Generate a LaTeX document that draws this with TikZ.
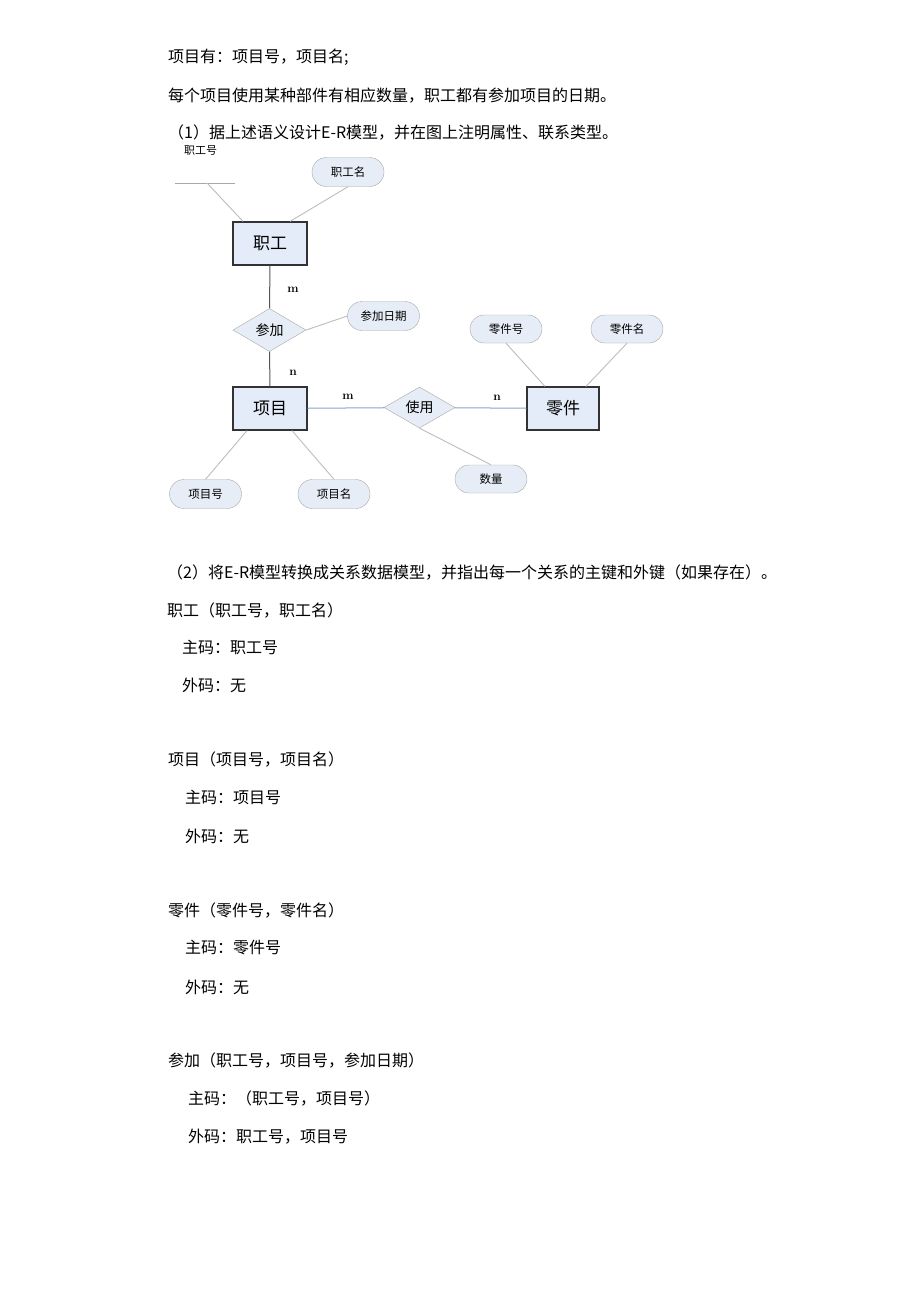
\documentclass[tikz,border=0pt]{standalone}
\usepackage{fontspec}
\newfontfamily\cjk{Noto Sans CJK SC}
\usetikzlibrary{shapes.geometric,shapes.misc}
\definecolor{erfill}{HTML}{E3ECF8}
\definecolor{attrfill}{HTML}{E6EDF6}
\definecolor{attrline}{HTML}{A8A8A8}
\definecolor{linegray}{HTML}{BDBDBD}
\definecolor{relline}{HTML}{555555}
\definecolor{useline}{HTML}{8AA4CC}
\begin{document}
\begin{tikzpicture}[x=1pt,y=-1pt,
  entity/.style={draw=black!80,fill=erfill,line width=1.2pt,minimum width=74pt,minimum height=43pt,inner sep=0pt,font=\cjk\fontsize{17}{17}\selectfont},
  attr/.style={rounded rectangle,draw=attrline,fill=attrfill,minimum width=72pt,minimum height=29pt,inner sep=0pt,font=\cjk\fontsize{11.5}{12}\selectfont},
  rel/.style={diamond,draw=attrline,fill=attrfill,minimum width=73pt,minimum height=43pt,inner sep=0pt,font=\cjk\fontsize{14}{14}\selectfont},
  txt/.style={anchor=west,inner sep=0pt,font=\cjk\fontsize{16}{18}\selectfont},
  card/.style={inner sep=0pt,font=\bfseries\fontsize{12}{12}\selectfont},
  attrlink/.style={draw=linegray,line width=0.9pt}]
\useasboundingbox[fill=white] (0,0) rectangle (920,1302);
% question text
\node[txt] (q1) at (168,57) {项目有：项目号，项目名;};
\node[txt] (q2) at (168,96) {每个项目使用某种部件有相应数量，职工都有参加项目的日期。};
\node[txt] (q3) at (168,133) {（1）据上述语义设计E-R模型，并在图上注明属性、联系类型。};
% E-R diagram
\node[txt,font=\cjk\fontsize{11}{12}\selectfont] (zghlabel) at (184,151) {职工号};
\coordinate (zghL) at (175,183);
\coordinate (zghR) at (235,183);
\coordinate (zgh) at (207,183);
\draw[draw=attrline,line width=0.9pt] (zghL) -- (zghR);
\node[entity] (zhigong) at (270,243.5) {职工};
\node[attr] (zgm) at (348,172) {职工名};
\node[rel] (canjia) at (269.5,330) {参加};
\node[attr] (cjrq) at (383.5,316) {参加日期};
\node[entity] (xiangmu) at (270,408.5) {项目};
\node[attr] (xmh) at (205.5,494) {项目号};
\node[attr] (xmm) at (334,494) {项目名};
\node[rel,minimum width=71pt,minimum height=41pt] (shiyong) at (419.5,407.5) {使用};
\node[entity,minimum width=72pt] (lingjian) at (563,408.5) {零件};
\node[attr,minimum height=28pt] (ljh) at (506,329) {零件号};
\node[attr,minimum height=28pt] (ljm) at (627,329) {零件名};
\node[attr,minimum height=28pt] (shuliang) at (491,479) {数量};
% connectors
\draw[attrlink] (zgh) -- (zhigong.north west -| 243,0);
\draw[attrlink] (zgm.south) -- (zhigong.north east -| 290,0);
\draw[draw=relline,line width=1pt] (zhigong) -- (canjia);
\draw[draw=relline,line width=1pt] (canjia) -- (xiangmu);
\draw[attrlink] (canjia.east) -- (cjrq.west);
\draw[attrlink] (xiangmu.south west -| 247,0) -- (xmh.north);
\draw[attrlink] (xiangmu.south east -| 292,0) -- (xmm.north);
\draw[draw=useline,line width=1pt] (xiangmu) -- (shiyong);
\draw[draw=useline,line width=1pt] (shiyong) -- (lingjian);
\draw[attrlink] (ljh.south) -- (lingjian.north west -| 545,0);
\draw[attrlink] (ljm.south) -- (lingjian.north east -| 586,0);
\draw[attrlink] (shiyong.south) -- (shuliang.north);
\node[card] (m1) at (293,290) {m};
\node[card] (n1) at (293,373) {n};
\node[card] (m2) at (348,397) {m};
\node[card] (n2) at (497,398) {n};
% answer text
\node[txt] (a0) at (167,572) {（2）将E-R模型转换成关系数据模型，并指出每一个关系的主键和外键（如果存在）。};
\node[txt] (r1) at (167,610) {职工（职工号，职工名）};
\node[txt] (r1p) at (182,647) {主码：职工号};
\node[txt] (r1f) at (182,685) {外码：无};
\node[txt] (r2) at (168,759) {项目（项目号，项目名）};
\node[txt] (r2p) at (185,797) {主码：项目号};
\node[txt] (r2f) at (185,836) {外码：无};
\node[txt] (r3) at (168,910) {零件（零件号，零件名）};
\node[txt] (r3p) at (185,948) {主码：零件号};
\node[txt] (r3f) at (185,987) {外码：无};
\node[txt] (r4) at (168,1060) {参加（职工号，项目号，参加日期）};
\node[txt] (r4p) at (188,1098) {主码：（职工号，项目号）};
\node[txt] (r4f) at (188,1137) {外码：职工号，项目号};
\end{tikzpicture}
\end{document}
